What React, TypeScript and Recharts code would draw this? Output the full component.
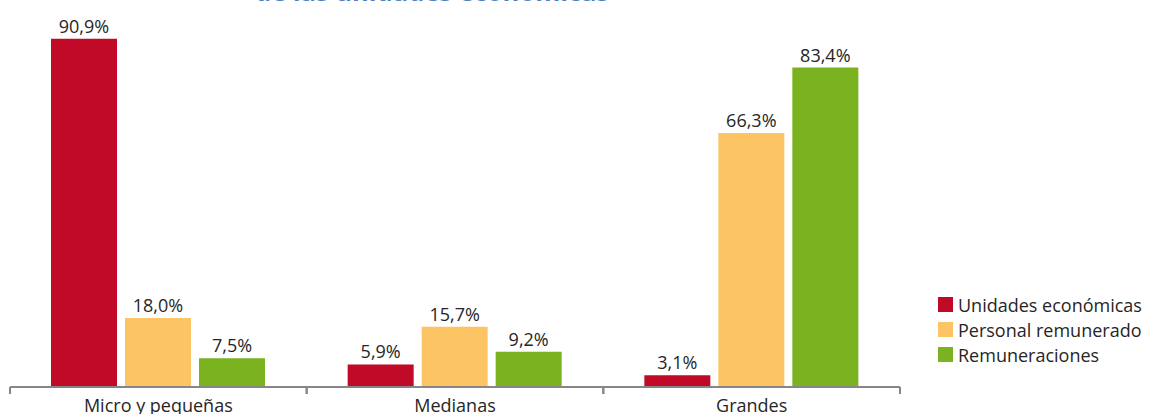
import { BarChart, Bar, XAxis, YAxis, Legend, LabelList } from 'recharts';

const categories = ['Micro y pequeñas', 'Medianas', 'Grandes'];
const unidades = [90.9, 5.9, 3.1];
const personal = [18.0, 15.7, 66.3];
const remuneraciones = [7.5, 9.2, 83.4];
const seriesNames = ['Unidades económicas', 'Personal remunerado', 'Remuneraciones'];
const seriesColors = ['#C00A27', '#FCC462', '#7AB31F'];

const data = categories.map((name, i) => ({
  name,
  unidades: unidades[i],
  personal: personal[i],
  remuneraciones: remuneraciones[i],
}));

const W = 1152;
const H = 414;
const margin = { top: 4, right: 252, left: 10, bottom: 0 };
const XAXIS_H = 27;
const AXIS_Y = H - margin.bottom - XAXIS_H;
const BAND = (W - margin.left - margin.right) / categories.length;
const FONT = '"Open Sans", sans-serif';
const TEXT = '#262626';

const fmt = (v: any) => `${Number(v).toFixed(1).replace('.', ',')}%`;

function CatTick(props: any) {
  const { x, payload } = props;
  return (
    <g>
      <line x1={x - BAND / 2} x2={x - BAND / 2} y1={AXIS_Y} y2={AXIS_Y + 7} stroke="#868686" strokeWidth={2} />
      <line x1={x + BAND / 2} x2={x + BAND / 2} y1={AXIS_Y} y2={AXIS_Y + 7} stroke="#868686" strokeWidth={2} />
      <text x={x} y={AXIS_Y + 25} textAnchor="middle" fontSize={18} fill={TEXT} fontFamily={FONT}>
        {payload.value}
      </text>
    </g>
  );
}

function LegendBox() {
  return (
    <div style={{ fontFamily: FONT, fontSize: 18, color: TEXT }}>
      {seriesNames.map((n, i) => (
        <div key={n} style={{ display: 'flex', alignItems: 'center', height: 25 }}>
          <span style={{ display: 'inline-block', width: 15, height: 15, background: seriesColors[i], marginRight: 5 }} />
          <span style={{ whiteSpace: 'nowrap' }}>{n}</span>
        </div>
      ))}
    </div>
  );
}

export default function App() {
  return (
    <div style={{ position: 'absolute', left: 0, top: 0, width: W, height: H, overflow: 'hidden', background: '#fff' }}>
      <div
        style={{
          position: 'absolute',
          left: 255,
          top: -26,
          fontFamily: FONT,
          fontWeight: 'bold',
          fontSize: 25.5,
          color: '#4F81BD',
          whiteSpace: 'nowrap',
        }}
      >
        de las unidades económicas
      </div>
      <BarChart width={W} height={H} data={data} margin={margin} barGap={8} barSize={66}>
        <XAxis
          dataKey="name"
          height={XAXIS_H}
          axisLine={{ stroke: '#868686', strokeWidth: 2 }}
          tickLine={false}
          tick={<CatTick />}
          interval={0}
        />
        <YAxis hide domain={[0, 100]} />
        <Legend
          layout="vertical"
          verticalAlign="middle"
          align="center"
          wrapperStyle={{ left: 938, top: 292, width: 214 }}
          content={<LegendBox />}
        />
        <Bar dataKey="unidades" name={seriesNames[0]} fill={seriesColors[0]} isAnimationActive={false}>
          <LabelList dataKey="unidades" position="top" offset={6} formatter={fmt} fill={TEXT} fontSize={18} fontFamily={FONT} />
        </Bar>
        <Bar dataKey="personal" name={seriesNames[1]} fill={seriesColors[1]} isAnimationActive={false}>
          <LabelList dataKey="personal" position="top" offset={6} formatter={fmt} fill={TEXT} fontSize={18} fontFamily={FONT} />
        </Bar>
        <Bar dataKey="remuneraciones" name={seriesNames[2]} fill={seriesColors[2]} isAnimationActive={false}>
          <LabelList dataKey="remuneraciones" position="top" offset={6} formatter={fmt} fill={TEXT} fontSize={18} fontFamily={FONT} />
        </Bar>
      </BarChart>
    </div>
  );
}
